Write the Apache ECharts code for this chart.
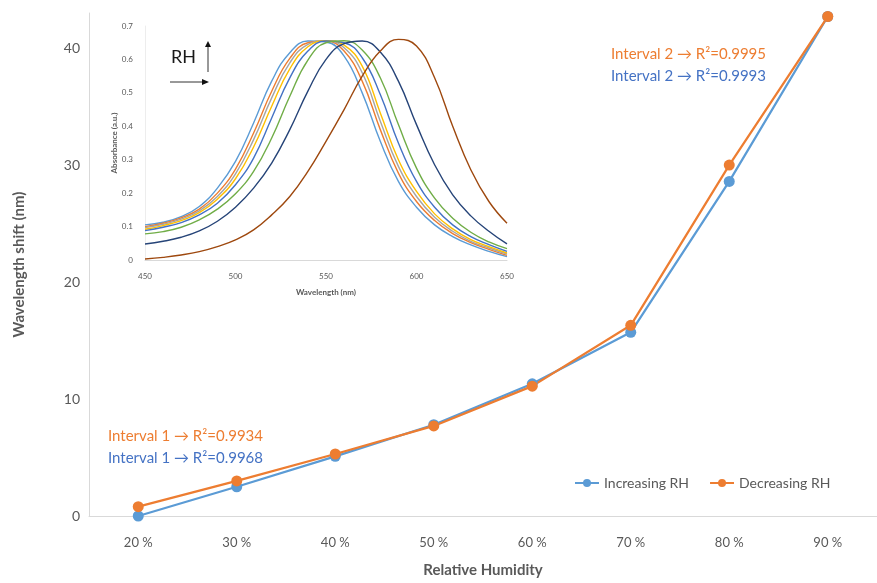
<!DOCTYPE html>
<html>
<head>
<meta charset="utf-8">
<script src="https://cdn.jsdelivr.net/npm/echarts@6/dist/echarts.min.js"></script>
<style>
  html, body { margin: 0; padding: 0; background: #fff; }
  #main { width: 877px; height: 583px; }
</style>
</head>
<body>
<div id="main"></div>
<script>
// main chart
const humidity = ['20 %', '30 %', '40 %', '50 %', '60 %', '70 %', '80 %', '90 %'];
const increasingRH = [0, 2.5, 5.1, 7.8, 11.3, 15.7, 28.6, 42.7];
const decreasingRH = [0.8, 3.0, 5.3, 7.7, 11.1, 16.3, 30.0, 42.7];

// inset spectra (absorbance vs wavelength)
const wavelength = [450, 460, 470, 480, 490, 500, 510, 520, 530, 540, 550, 560, 570, 580, 590, 600, 610, 620, 630, 640, 650];
const specLightBlue = [0.105, 0.113, 0.13, 0.16, 0.215, 0.295, 0.41, 0.535, 0.62, 0.655, 0.652, 0.61, 0.50, 0.355, 0.235, 0.158, 0.105, 0.07, 0.045, 0.026, 0.01];
const specOrange = [0.10, 0.11, 0.126, 0.152, 0.20, 0.272, 0.38, 0.505, 0.603, 0.65, 0.655, 0.625, 0.535, 0.39, 0.26, 0.175, 0.118, 0.079, 0.052, 0.032, 0.014];
const specGray = [0.097, 0.107, 0.122, 0.147, 0.19, 0.258, 0.36, 0.485, 0.59, 0.645, 0.656, 0.635, 0.56, 0.415, 0.28, 0.19, 0.128, 0.086, 0.056, 0.036, 0.018];
const specYellow = [0.092, 0.103, 0.118, 0.142, 0.182, 0.243, 0.338, 0.46, 0.572, 0.638, 0.656, 0.643, 0.58, 0.44, 0.30, 0.205, 0.138, 0.093, 0.061, 0.04, 0.021];
const specBlue = [0.088, 0.098, 0.112, 0.135, 0.17, 0.225, 0.305, 0.425, 0.545, 0.625, 0.655, 0.65, 0.605, 0.495, 0.35, 0.235, 0.158, 0.105, 0.07, 0.046, 0.026];
const specGreen = [0.078, 0.085, 0.098, 0.12, 0.152, 0.198, 0.265, 0.365, 0.49, 0.598, 0.65, 0.656, 0.628, 0.545, 0.405, 0.275, 0.185, 0.125, 0.083, 0.054, 0.034];
const specDarkBlue = [0.048, 0.056, 0.068, 0.087, 0.116, 0.158, 0.215, 0.29, 0.39, 0.505, 0.6, 0.647, 0.655, 0.622, 0.535, 0.405, 0.285, 0.195, 0.132, 0.086, 0.048];
const specBrown = [0.003, 0.008, 0.015, 0.025, 0.04, 0.06, 0.09, 0.135, 0.19, 0.265, 0.355, 0.45, 0.55, 0.625, 0.66, 0.64, 0.545, 0.40, 0.27, 0.175, 0.11];

const spectra = [
    [specLightBlue, '#5B9BD5'],
    [specOrange, '#ED7D31'],
    [specGray, '#A5A5A5'],
    [specYellow, '#FFC000'],
    [specBlue, '#4472C4'],
    [specGreen, '#70AD47'],
    [specDarkBlue, '#264478'],
    [specBrown, '#9E480E'],
];

const FONT = 'Lato, "Open Sans", sans-serif';
const AXIS_GRAY = '#D9D9D9';
const LABEL_GRAY = '#595959';

const mainSeries = (name, data, color) => ({
    name: name,
    type: 'line',
    xAxisIndex: 0,
    yAxisIndex: 0,
    data: data,
    symbol: 'circle',
    symbolSize: 11,
    itemStyle: { color: color },
    lineStyle: { color: color, width: 2.25 },
    z: 5,
});

const insetSeries = spectra.map(([vals, color]) => ({
    type: 'line',
    xAxisIndex: 1,
    yAxisIndex: 1,
    data: wavelength.map((w, i) => [w, vals[i]]),
    smooth: 0.45,
    showSymbol: false,
    lineStyle: { color: color, width: 1.4 },
    silent: true,
}));

const note = (x, y, str, color) => ({
    type: 'text',
    left: x,
    top: y,
    style: { text: str, fill: color, font: '15px ' + FONT },
});

const chart = echarts.init(document.getElementById('main'));
chart.setOption({
    animation: false,
    textStyle: { fontFamily: FONT },
    grid: [
        { left: 89, right: 0, top: 13, bottom: 63 },
        { left: 145, right: 370, top: 26, bottom: 323 },
    ],
    legend: {
        data: ['Increasing RH', 'Decreasing RH'],
        left: 569,
        top: 471,
        itemWidth: 24,
        itemHeight: 10,
        itemGap: 20,
        textStyle: { color: LABEL_GRAY, fontSize: 14, fontFamily: FONT },
    },
    xAxis: [
        {
            type: 'category',
            gridIndex: 0,
            data: humidity,
            boundaryGap: true,
            axisLine: { lineStyle: { color: AXIS_GRAY } },
            axisTick: { show: false },
            axisLabel: { color: LABEL_GRAY, fontSize: 13, margin: 20 },
            name: 'Relative Humidity',
            nameLocation: 'middle',
            nameGap: 47,
            nameTextStyle: { color: LABEL_GRAY, fontSize: 15, fontWeight: 'bold' },
        },
        {
            type: 'value',
            gridIndex: 1,
            min: 450,
            max: 650,
            interval: 50,
            axisLine: { lineStyle: { color: AXIS_GRAY } },
            axisTick: { show: false },
            splitLine: { show: false },
            axisLabel: { color: LABEL_GRAY, fontSize: 8, margin: 12 },
            name: 'Wavelength (nm)',
            nameLocation: 'middle',
            nameGap: 28,
            nameTextStyle: { color: LABEL_GRAY, fontSize: 8, fontWeight: 'bold' },
        },
    ],
    yAxis: [
        {
            type: 'value',
            gridIndex: 0,
            min: 0,
            max: 43,
            interval: 10,
            axisLine: { show: true, lineStyle: { color: AXIS_GRAY } },
            axisTick: { show: false },
            splitLine: { show: false },
            axisLabel: {
                color: LABEL_GRAY,
                fontSize: 14,
                margin: 9,
                formatter: (v) => (v % 10 === 0 ? String(v) : ''),
            },
            name: 'Wavelength shift (nm)',
            nameLocation: 'middle',
            nameGap: 62,
            nameTextStyle: { color: LABEL_GRAY, fontSize: 15, fontWeight: 'bold' },
        },
        {
            type: 'value',
            gridIndex: 1,
            min: 0,
            max: 0.7,
            interval: 0.1,
            axisLine: { show: true, lineStyle: { color: '#EDEDED' } },
            axisTick: { show: false },
            splitLine: { show: false },
            axisLabel: {
                color: LABEL_GRAY,
                fontSize: 8,
                margin: 12,
                formatter: (v) => (v === 0 ? '0' : v.toFixed(1)),
            },
            name: 'Absorbance (a.u.)',
            nameLocation: 'middle',
            nameGap: 26,
            nameTextStyle: { color: LABEL_GRAY, fontSize: 8, fontWeight: 'bold' },
        },
    ],
    series: [
        mainSeries('Increasing RH', increasingRH, '#5B9BD5'),
        mainSeries('Decreasing RH', decreasingRH, '#ED7D31'),
        ...insetSeries,
    ],
    graphic: [
        note(611, 47, 'Interval 2 \u2192 R\u00B2=0.9995', '#ED7D31'),
        note(611, 69, 'Interval 2 \u2192 R\u00B2=0.9993', '#4472C4'),
        note(108, 429, 'Interval 1 \u2192 R\u00B2=0.9934', '#ED7D31'),
        note(108, 451, 'Interval 1 \u2192 R\u00B2=0.9968', '#4472C4'),
        {
            type: 'text',
            left: 171,
            top: 48,
            style: { text: 'RH', fill: '#1a1a1a', font: '18px ' + FONT },
        },
        // RH arrows
        { type: 'line', shape: { x1: 208, y1: 72, x2: 208, y2: 46 }, style: { stroke: '#333', lineWidth: 1 } },
        { type: 'polygon', shape: { points: [[205, 47], [211, 47], [208, 41]] }, style: { fill: '#111' } },
        { type: 'line', shape: { x1: 170, y1: 82, x2: 203, y2: 82 }, style: { stroke: '#333', lineWidth: 1 } },
        { type: 'polygon', shape: { points: [[202, 79], [202, 85], [209, 82]] }, style: { fill: '#111' } },
    ],
});
</script>
</body>
</html>
